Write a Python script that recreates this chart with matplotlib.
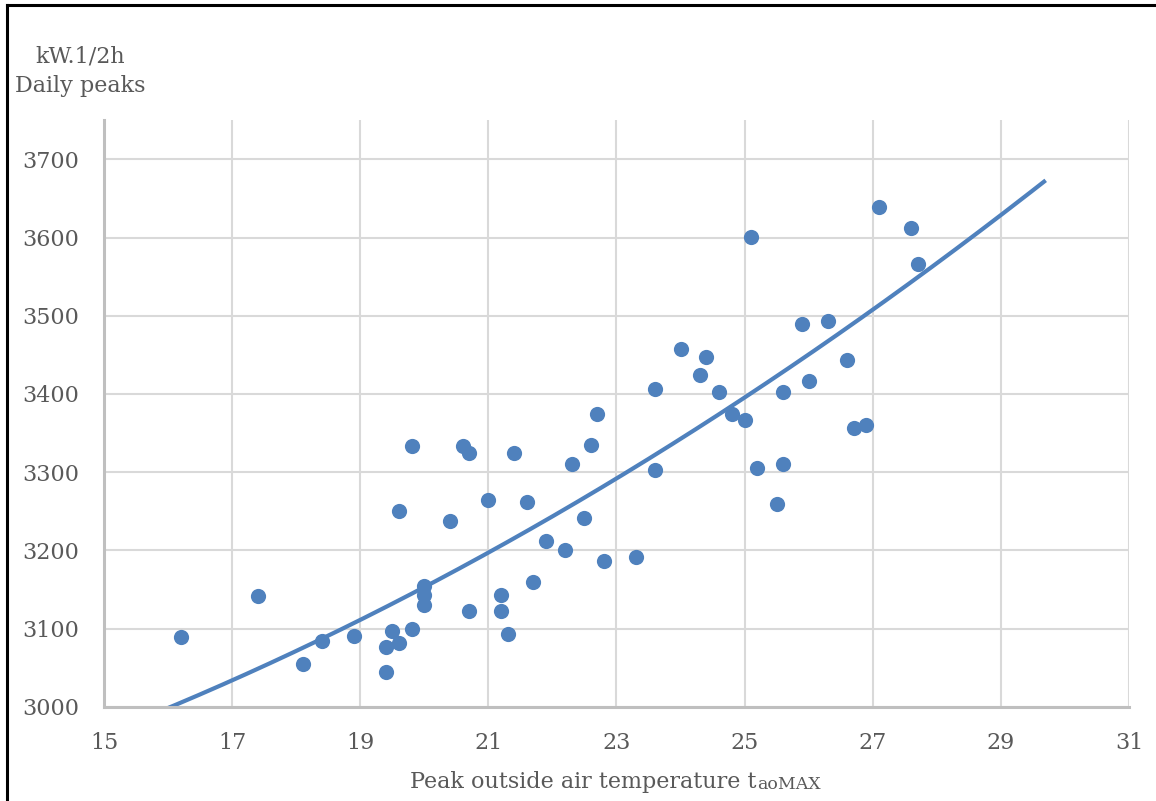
import matplotlib.pyplot as plt
import numpy as np
from matplotlib.lines import Line2D

# peak outside air temperature (C) and daily peak load (kW.1/2h)
temp = [16.2, 17.4, 18.1, 18.4, 18.9, 19.4, 19.4, 19.5, 19.6, 19.6,
        19.8, 19.8, 20.0, 20.0, 20.0, 20.4, 20.6, 20.7, 20.7, 21.0,
        21.2, 21.2, 21.3, 21.4, 21.6, 21.7, 21.9, 22.2, 22.3, 22.5,
        22.6, 22.7, 22.8, 23.3, 23.6, 23.6, 24.0, 24.3, 24.4, 24.6,
        24.8, 25.0, 25.1, 25.2, 25.5, 25.6, 25.6, 25.9, 26.0, 26.3,
        26.6, 26.7, 26.9, 27.1, 27.6, 27.7]
peak = [3090, 3142, 3055, 3084, 3091, 3045, 3077, 3097, 3082, 3251,
        3100, 3334, 3154, 3143, 3130, 3238, 3334, 3325, 3123, 3264,
        3143, 3123, 3093, 3324, 3262, 3160, 3212, 3200, 3310, 3241,
        3335, 3375, 3186, 3192, 3303, 3406, 3457, 3424, 3447, 3402,
        3375, 3367, 3601, 3305, 3259, 3403, 3311, 3489, 3417, 3493,
        3443, 3357, 3360, 3639, 3612, 3566]

# polynomial (order 2) trendline as shown on the chart, forecast 2 forward
trend_coef = [1.092, -0.68, 2730.0]
trend_forward = 2.0

x_ticks = [15, 17, 19, 21, 23, 25, 27, 29, 31]
y_ticks = [3000, 3100, 3200, 3300, 3400, 3500, 3600, 3700]

blue = '#4F81BD'
grey_txt = '#595959'
plt.rcParams['font.family'] = ['DejaVu Serif']
fs = 16

fig = plt.figure(figsize=(11.56, 8.01), dpi=100)
ax = fig.add_axes([0.090, 0.1174, 0.8866, 0.7326])

ax.scatter(temp, peak, s=120, color=blue, zorder=3, linewidths=0)

xs = np.linspace(15.0, max(temp) + trend_forward, 200)
ax.plot(xs, np.polyval(trend_coef, xs), color=blue, lw=3, zorder=2, solid_capstyle='butt')

ax.set_xlim(15, 31)
ax.set_ylim(3000, 3750)
ax.set_xticks(x_ticks)
ax.set_yticks(y_ticks)
ax.grid(True, color='#D9D9D9', lw=1.5)
ax.set_axisbelow(True)
for s in ['top', 'right']:
    ax.spines[s].set_visible(False)
for s in ['left', 'bottom']:
    ax.spines[s].set_color('#BFBFBF')
    ax.spines[s].set_linewidth(2.2)
ax.tick_params(length=0, labelsize=fs, labelcolor=grey_txt)
ax.tick_params(axis='x', pad=18)
ax.tick_params(axis='y', pad=18)

fig.text(0.069, 0.929, 'kW.1/2h', ha='center', va='center', fontsize=fs, color=grey_txt)
fig.text(0.069, 0.893, 'Daily peaks', ha='center', va='center', fontsize=fs, color=grey_txt)

t1 = fig.text(0.355, 0.016, 'Peak outside air temperature t', ha='left', va='baseline',
              fontsize=fs, color=grey_txt)
ax.annotate('aoMAX', xy=(1, 0), xycoords=t1, ha='left', va='bottom',
            fontsize=12.5, color=grey_txt, annotation_clip=False)

# outer frame (top and left edges)
fig.add_artist(Line2D([0.006, 1.0], [0.9935, 0.9935], color='black', lw=2.2))
fig.add_artist(Line2D([0.006, 0.006], [0.0, 0.9935], color='black', lw=2.2))

fig.savefig('out.png', dpi=100, facecolor='white')
